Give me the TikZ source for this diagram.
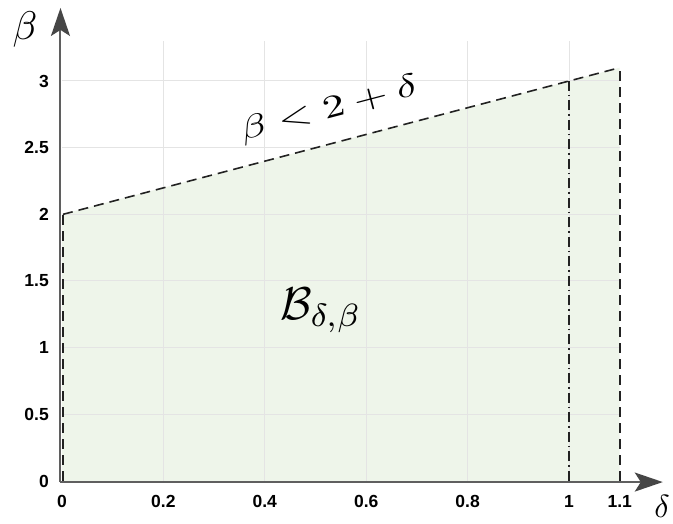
\documentclass[tikz,border=0pt]{standalone}
\usepackage{fontspec}
\newfontfamily\tickfont{Liberation Sans}
\usetikzlibrary{arrows.meta}
\definecolor{regfill}{RGB}{238,245,234}
\definecolor{gridc}{RGB}{228,228,228}
\definecolor{axisc}{RGB}{95,95,95}
\definecolor{arrowc}{RGB}{70,70,70}
\definecolor{linec}{RGB}{34,34,34}
\tikzset{
  gridline/.style={gridc, line width=1pt},
  axisline/.style={axisc, line width=2pt, -{Stealth[length=28pt, width=19pt, inset=6pt, color=arrowc]}},
  bound/.style={linec, line width=1.6pt, dash pattern=on 10pt off 6pt},
  bounddot/.style={linec, line width=1.6pt, dash pattern=on 10pt off 4pt on 1.5pt off 4pt},
  ticklab/.style={font=\tickfont\bfseries\fontsize{17.5}{17.5}\selectfont, inner sep=0pt},
  mathlab/.style={inner sep=0pt},
}
\begin{document}
\begin{tikzpicture}[x=1pt,y=1pt]
\useasboundingbox (0,0) rectangle (673,524);
\begin{scope}[shift={(62,43)}, x=507pt, y=133.333pt]
  % region
  \fill[regfill] (0,0) -- (0,2) -- (1.1,3.1) -- (1.1,0) -- cycle;
  % grid
  \foreach \x in {0.2,0.4,0.6,0.8,1.0} \draw[gridline] (\x,0) -- (\x,3.3);
  \foreach \y in {0.5,1,1.5,2,2.5,3} \draw[gridline] (0,\y) -- (1.1,\y);
  % named points
  \coordinate (O) at (-0.003,-0.008);
  \coordinate (ytip) at (-0.003,3.548);
  \coordinate (xtip) at (1.185,-0.008);
  \coordinate (A0) at (0.002,0);
  \coordinate (A2) at (0.002,2);
  \coordinate (B0) at (1.1,0);
  \coordinate (B3) at (1.1,3.1);
  \coordinate (C0) at (1,0);
  \coordinate (C3) at (1,3);
  % boundaries
  \draw[bound] (A0) -- (A2);
  \draw[bound] (A2) -- (B3);
  \draw[bound] (B0) -- (B3);
  \draw[bounddot] (C0) -- (C3);
  % axes
  \draw[axisline] (O) -- (ytip);
  \draw[axisline] (O) -- (xtip);
  % tick labels
  \foreach \y/\t [count=\i] in {0/0,0.5/0.5,1/1,1.5/1.5,2/2,2.5/2.5,3/3}
    \node[ticklab, anchor=east, xshift=-13pt] (yl\i) at (0,\y) {\t};
  \foreach \x/\t [count=\i] in {0/0,0.2/0.2,0.4/0.4,0.6/0.6,0.8/0.8,1/1,1.1/1.1}
    \node[ticklab, yshift=-20pt] (xl\i) at (\x,0) {\t};
\end{scope}
% axis labels
\node[mathlab] (betalab) at (25,494) {\scalebox{4}{$\beta$}};
\node[mathlab] (deltalab) at (662,18) {\scalebox{3.2}{$\delta$}};
% annotations
\node[mathlab, rotate=14.7] (ineq) at (329,414) {\scalebox{4.4}[3.2]{$\beta<2+\delta$}};
\node[mathlab] (region) at (321,214) {\scalebox{4.6}{$\mathcal{B}_{\delta,\beta}$}};
\end{tikzpicture}
\end{document}
